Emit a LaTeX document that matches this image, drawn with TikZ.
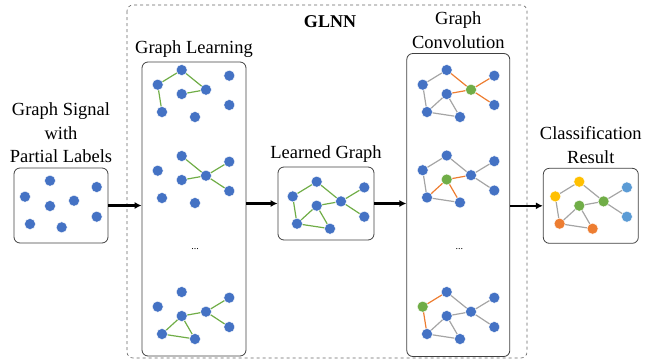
\documentclass[tikz,border=0pt]{standalone}
\usepackage{fontspec}
\setmainfont{Liberation Serif}
\usetikzlibrary{positioning,arrows.meta}
\definecolor{nodeblue}{HTML}{4472C4}
\definecolor{edgegreen}{HTML}{70AD47}
\definecolor{edgeorange}{HTML}{ED7D31}
\definecolor{edgegray}{HTML}{A5A5A5}
\definecolor{resyellow}{HTML}{FFC000}
\definecolor{reslblue}{HTML}{5B9BD5}
\tikzset{
  dot/.style={circle,fill=nodeblue,draw=white,line width=0.4pt,inner sep=0pt,minimum size=11pt},
  dota/.style={},dotb/.style={},dotc/.style={},dotd/.style={},
  dote/.style={},dotf/.style={},dotg/.style={},doth/.style={},
  gledge/.style={draw=edgegreen,line width=1.2pt},
  cvedge/.style={draw=edgeorange,line width=1.2pt},
  grayedge/.style={draw=edgegray,line width=1.2pt},
  panel/.style={draw=black!75,rounded corners=6pt,line width=0.8pt},
  caption/.style={align=center,font=\fontsize{18.5}{23.5}\selectfont},
  flow/.style={-{Latex[length=7pt,width=7pt]},line width=2.4pt}
}
% eight dots of one graph, #2 = prefix, #3 = place of dot a
\newcommand{\dotgraph}[3][]{%
  \begin{scope}[shift={#3},#1]
    \node[dot,dota] (#2a) at (0,0) {};
    \node[dot,dotb] (#2b) at (-24,14.7) {};
    \node[dot,dotc] (#2c) at (47.6,5.7) {};
    \node[dot,dotd] (#2d) at (24.3,19.7) {};
    \node[dot,dote] (#2e) at (0,24) {};
    \node[dot,dotf] (#2f) at (47.6,35) {};
    \node[dot,dotg] (#2g) at (-19.7,42) {};
    \node[dot,doth] (#2h) at (13.3,47) {};
  \end{scope}}
\begin{document}
\begin{tikzpicture}[x=1pt,y=-1pt]
\useasboundingbox (0,0) rectangle (649,360);

% GLNN frame
\draw[dashed,black!60,rounded corners=6pt,line width=0.6pt] (127,5) rectangle (527,358);
\node[font=\fontsize{18}{20}\selectfont\bfseries] (glnn) at (330,22) {GLNN};

% panels
\node[panel,minimum width=94pt,minimum height=75pt] (signal) at (61,205.5) {};
\node[panel,minimum width=104pt,minimum height=294pt] (learn) at (194,209) {};
\node[panel,minimum width=96pt,minimum height=73pt] (learned) at (326,203.5) {};
\node[panel,minimum width=103pt,minimum height=303pt] (conv) at (458.3,205) {};
\node[panel,minimum width=95pt,minimum height=75pt] (result) at (590.8,205.8) {};

% captions
\node[caption,above=1pt of signal] (signaltxt) {Graph Signal\\with\\Partial Labels};
\node[caption,above=1pt of learn] (learntxt) {Graph Learning};
\node[caption,above=1pt of learned] (learnedtxt) {Learned Graph};
\node[caption,above=1pt of conv] (convtxt) {Graph\\Convolution};
\node[caption,above=1pt of result] (resulttxt) {Classification\\Result};

% input signal
\node[dot] (s1) at (50,180.7) {};
\node[dot] (s2) at (96.7,187) {};
\node[dot] (s3) at (25,196.7) {};
\node[dot] (s4) at (50,206) {};
\node[dot] (s5) at (74,200.7) {};
\node[dot] (s6) at (96.7,216.7) {};
\node[dot] (s7) at (30,224) {};
\node[dot] (s8) at (61.7,227.3) {};

% graph learning
\dotgraph{gla}{(181.7,70)}
\dotgraph{glb}{(181.7,156)}
\dotgraph{glc}{(181.7,292)}
\draw[gledge] (glab) -- (glaa) -- (glad) -- (glae) (glab) -- (glag);
\draw[gledge] (glba) -- (glbd) -- (glbc) (glbd) -- (glbf) (glbe) -- (glbd);
\draw[gledge] (glce) -- (glcd) -- (glcc) (glcd) -- (glcf) (glce) -- (glcg) -- (glch) -- (glce);
\node[font=\normalsize] (gldots) at (195,249) {...};

% learned graph
\dotgraph{lg}{(316.7,181.7)}
\draw[gledge] (lgb) -- (lga) -- (lgd) -- (lgc) (lgd) -- (lgf) (lge) -- (lgd)
  (lgb) -- (lgg) -- (lge) -- (lgh) -- (lgg);

% graph convolution
\dotgraph[dotd/.style={fill=edgegreen}]{gca}{(446.7,70)}
\dotgraph[dote/.style={fill=edgegreen}]{gcb}{(446.7,155.5)}
\dotgraph[dotb/.style={fill=edgegreen}]{gcc}{(446.7,292)}
\draw[grayedge] (gcab) -- (gcaa) (gcab) -- (gcag) -- (gcae) -- (gcah) -- (gcag);
\draw[cvedge] (gcaa) -- (gcad) -- (gcac) (gcad) -- (gcaf) (gcae) -- (gcad);
\draw[grayedge] (gcbb) -- (gcba) -- (gcbd) -- (gcbc) (gcbd) -- (gcbf) (gcbb) -- (gcbg) -- (gcbh);
\draw[cvedge] (gcbe) -- (gcbd) (gcbe) -- (gcbg) (gcbe) -- (gcbh);
\draw[cvedge] (gcca) -- (gccb) -- (gccg);
\draw[grayedge] (gcca) -- (gccd) -- (gccc) (gccd) -- (gccf) (gcce) -- (gccd)
  (gccg) -- (gcce) -- (gcch) -- (gccg);
\node[font=\normalsize] (gcdots) at (459.3,249) {...};

% classification result
\dotgraph[dota/.style={fill=resyellow},dotb/.style={fill=resyellow},
  dotc/.style={fill=reslblue},dotf/.style={fill=reslblue},
  dotd/.style={fill=edgegreen},dote/.style={fill=edgegreen},
  dotg/.style={fill=edgeorange},doth/.style={fill=edgeorange}]{cr}{(579.3,181.7)}
\draw[grayedge] (crb) -- (cra) -- (crd) -- (crc) (crd) -- (crf) (cre) -- (crd)
  (crb) -- (crg) -- (cre) -- (crh) -- (crg);

% flow
\draw[flow] (signal.east) -- (signal.east -| learn.west);
\draw[flow] (learn.east |- learned.west) -- (learned.west);
\draw[flow] (learned.east) -- (learned.east -| conv.west);
\draw[flow] (conv.east |- result.west) -- (result.west);
\end{tikzpicture}
\end{document}
